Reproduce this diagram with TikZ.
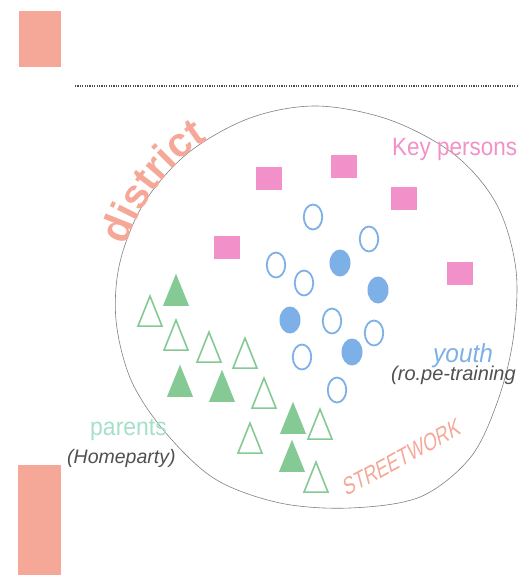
\documentclass[tikz,border=0pt]{standalone}
\usepackage{fontspec}
\setmainfont{Liberation Sans}
\usepackage{tikz}
\usetikzlibrary{shapes.geometric,positioning,decorations.text}

\definecolor{salmon}{HTML}{F5A898}
\definecolor{keypink}{HTML}{F291C9}
\definecolor{youthblue}{HTML}{7EB0E8}
\definecolor{parentgreen}{HTML}{85C994}
\definecolor{mint}{HTML}{A5E0C9}
\definecolor{darktext}{HTML}{505050}

\tikzset{
  keybox/.style={fill=keypink, minimum width=26pt, minimum height=23pt, inner sep=0pt},
  youthring/.style={draw=youthblue, line width=1.8pt, ellipse, minimum width=18.5pt, minimum height=25pt, inner sep=0pt},
  youthdot/.style={fill=youthblue, ellipse, minimum width=21pt, minimum height=27pt, inner sep=0pt},
  parentfull/.style={fill=parentgreen, isosceles triangle, isosceles triangle stretches, rotate=90, minimum width=26pt, minimum height=32pt, inner sep=0pt},
  parentopen/.style={draw=parentgreen, line width=1.6pt, isosceles triangle, isosceles triangle stretches, rotate=90, minimum width=24pt, minimum height=30pt, inner sep=0pt},
  label/.style={inner sep=0pt, anchor=base west}
}

\begin{document}
\begin{tikzpicture}[x=1pt,y=-1pt]
\useasboundingbox (0,0) rectangle (517,575);
% page marks
\fill[salmon] (19,11) rectangle (61,67);
\fill[salmon] (18,465) rectangle (61,575);
\draw[gray!60!black, line width=2.4pt, dash pattern=on 1.2pt off 1.2pt] (75,86) coordinate(rulestart) -- (517,86) coordinate(ruleend);
% the district (hand drawn egg shape)
\draw[gray, line width=0.6pt] plot[smooth cycle, tension=0.55] coordinates {
  (317,106) (390,120) (455,155) (497,205) (516,270) (513,340) (497,403)
  (470,458) (420,497) (350,508) (280,503) (215,479) (165,432) (131,380)
  (116,320) (120,262) (144,203) (188,153) (250,118)};
\path[decorate, decoration={text along path, text color=salmon,
  text={|\fontsize{41}{41}\selectfont\bfseries|district}}]
  (126,246) coordinate(districtstart) arc[start angle=198, end angle=242, radius=200];
\node[label, text=keypink, xscale=0.9, font=\fontsize{25}{25}\selectfont] (keyp) at (392,155) {Key persons};
% key persons
\node[keybox] (k1) at (269,178) {};
\node[keybox] (k2) at (344,166) {};
\node[keybox] (k3) at (404,198) {};
\node[keybox] (k4) at (227,247) {};
\node[keybox] (k5) at (460,273) {};
% youth
\node[youthring] (y1) at (313,217) {};
\node[youthring] (y2) at (369,239) {};
\node[youthring] (y3) at (276,265) {};
\node[youthdot] (y4) at (340,263) {};
\node[youthring] (y5) at (304,283) {};
\node[youthdot] (y6) at (378,290) {};
\node[youthdot] (y7) at (290,320) {};
\node[youthring] (y8) at (332,321) {};
\node[youthring] (y9) at (374,333) {};
\node[youthdot] (y10) at (352,352) {};
\node[youthring] (y11) at (302,357) {};
\node[youthring] (y12) at (337,390) {};
% parents
\node[parentfull] (p1) at (176,297) {};
\node[parentopen] (p2) at (150,318) {};
\node[parentopen] (p3) at (176,342) {};
\node[parentopen] (p4) at (209,354) {};
\node[parentopen] (p5) at (245,360) {};
\node[parentfull] (p6) at (180,388) {};
\node[parentfull] (p7) at (222,393) {};
\node[parentopen] (p8) at (264,400) {};
\node[parentfull] (p9) at (293,425) {};
\node[parentopen] (p10) at (320,431) {};
\node[parentopen] (p11) at (250,445) {};
\node[parentfull] (p12) at (292,463) {};
\node[parentopen] (p13) at (316,484) {};
% labels
\node[label, text=youthblue, xscale=0.94, font=\fontsize{26}{26}\selectfont\itshape] (youth) at (433,362) {youth};
\node[label, text=darktext, font=\fontsize{20}{20}\selectfont\itshape] (rope) at (391,380) {(ro.pe-training};
\node[label, text=mint, xscale=0.92, font=\fontsize{25}{25}\selectfont] (parents) at (90,435) {parents};
\node[label, text=darktext, font=\fontsize{19.5}{19.5}\selectfont\itshape] (homeparty) at (67,463) {(Homeparty)};
\node[label, xscale=0.7, rotate=21, text=salmon, font=\fontsize{25}{25}\selectfont] (street) at (346,497) {STREETWORK};
\end{tikzpicture}
\end{document}
